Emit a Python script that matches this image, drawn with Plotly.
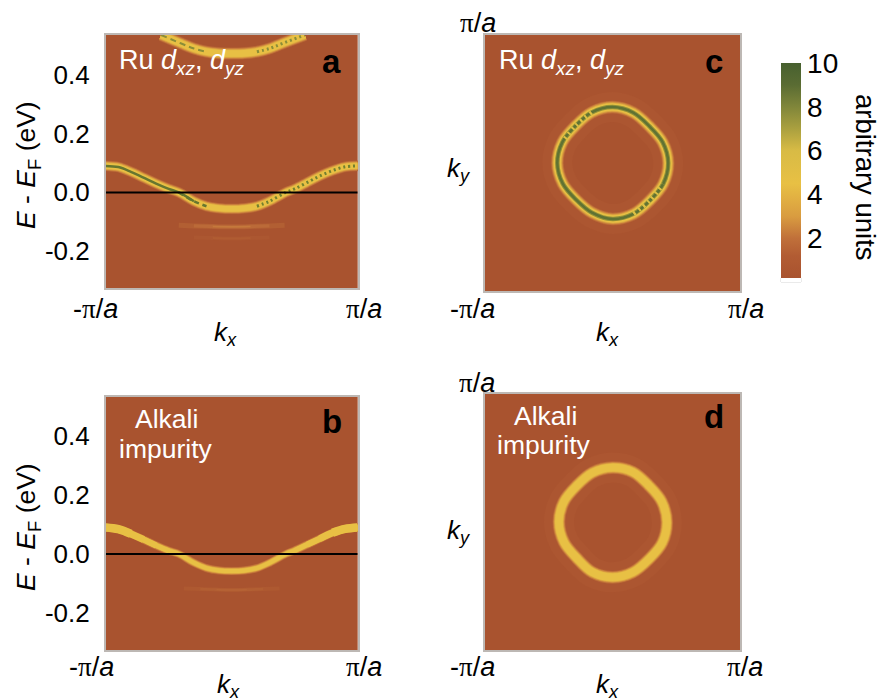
import plotly.graph_objects as go

W, H = 880, 699

# ---------- data (k in units of pi/a, E in eV) ----------
band_k = [-1.0, -0.9, -0.8, -0.7, -0.6, -0.5, -0.42, -0.3, -0.2, -0.1, 0.0,
          0.1, 0.2, 0.3, 0.43, 0.5, 0.6, 0.7, 0.8, 0.9, 1.0]
band_a_E = [0.090, 0.086, 0.070, 0.050, 0.030, 0.012, 0.0, -0.030, -0.047, -0.054, -0.056,
            -0.054, -0.047, -0.030, 0.0, 0.012, 0.034, 0.056, 0.074, 0.087, 0.090]
band_b_E = [0.090, 0.084, 0.068, 0.049, 0.029, 0.011, 0.0, -0.030, -0.048, -0.056, -0.058,
            -0.056, -0.048, -0.030, 0.0, 0.012, 0.032, 0.052, 0.072, 0.085, 0.090]
upper_k = [-0.56, -0.4, -0.3, -0.2, -0.1, 0.0, 0.1, 0.2, 0.3, 0.4, 0.58]
upper_E = [0.535, 0.506, 0.489, 0.478, 0.473, 0.472, 0.473, 0.478, 0.489, 0.506, 0.535]
faint1_k = [-0.42, -0.3, -0.15, 0.0, 0.15, 0.3, 0.42]
faint1_E = [-0.112, -0.114, -0.116, -0.117, -0.116, -0.114, -0.112]
faint2_k = [-0.3, -0.15, 0.0, 0.15, 0.3]
faint2_E = [-0.153, -0.155, -0.157, -0.155, -0.153]
faint_b_k = [-0.38, -0.25, -0.12, 0.0, 0.12, 0.25, 0.38]
faint_b_E = [-0.117, -0.119, -0.121, -0.122, -0.121, -0.119, -0.117]

ring_c_x = [0.437, 0.393, 0.288, 0.163, 0.0, -0.164, -0.29, -0.393, -0.433, -0.39, -0.286, -0.161,
            0.0, 0.165, 0.293, 0.397, 0.437]
ring_c_y = [0.0, 0.163, 0.288, 0.393, 0.437, 0.395, 0.29, 0.163, 0.0, -0.161, -0.286, -0.388,
            -0.437, -0.397, -0.293, -0.165, 0.0]
ring_d_x = [0.426, 0.386, 0.285, 0.16, 0.0, -0.158, -0.282, -0.382, -0.42, -0.38, -0.28, -0.158,
            0.0, 0.16, 0.288, 0.39, 0.426]
ring_d_y = [0.0, 0.16, 0.285, 0.39, 0.425, 0.385, 0.282, 0.158, 0.0, -0.158, -0.282, -0.392,
            -0.432, -0.392, -0.288, -0.162, 0.0]

cbar_ticks = [2, 4, 6, 8, 10]
y_ticks = [-0.2, 0.0, 0.2, 0.4]
y_tick_text = ["-0.2", "0.0", "0.2", "0.4"]

BG = "#a9532f"
FONT = "Liberation Sans"
colorscale = [[0, "#ffffff"], [0.018, "#ffffff"], [0.018, "#a9532f"], [0.12, "#b25c33"],
              [0.2, "#c0703a"], [0.3, "#d99c40"], [0.45, "#e8c044"], [0.6, "#d8bb45"],
              [0.7, "#aaa03f"], [0.8, "#80863a"], [0.9, "#5a6c33"], [1, "#47602f"]]
RAMP = ["#a9532f", "#c0703a", "#d99c40", "#e8c044"]


def hex_rgb(h):
    return [int(h[i:i + 2], 16) for i in (1, 3, 5)]


def ramp(t, top=1.0):
    t = t * top * (len(RAMP) - 1)
    i = min(int(t), len(RAMP) - 2)
    f = t - i
    a, b = hex_rgb(RAMP[i]), hex_rgb(RAMP[i + 1])
    return "rgb(%d,%d,%d)" % tuple(round(a[n] + (b[n] - a[n]) * f) for n in range(3))


def px_x(a, b):
    return [a / W, b / W]


def px_y(top, bottom):
    return [1 - bottom / H, 1 - top / H]


fig = go.Figure()
panels = {
    "": (105.7, 357.7, 35, 288, [-0.325, 0.535]),
    "2": (105.7, 357.7, 396.7, 650, [-0.326, 0.534]),
    "3": (485, 740, 35, 291, [-1, 1]),
    "4": (485, 740, 394, 650, [-1, 1]),
}
layout = {}
for s, (x0, x1, y0, y1, yr) in panels.items():
    energy = s in ("", "2")
    layout["xaxis" + s] = dict(domain=px_x(x0, x1), range=[-1, 1], anchor="y" + s, showgrid=False,
                               zeroline=False, showticklabels=False, ticks="", showline=True,
                               mirror=True, linecolor="#bdb8b4", linewidth=1.5)
    layout["yaxis" + s] = dict(domain=px_y(y0, y1), range=yr, anchor="x" + s, showgrid=False,
                               zeroline=False, showline=True, mirror=True,
                               linecolor="#bdb8b4", linewidth=1.5,
                               tickvals=y_ticks if energy else [],
                               ticktext=y_tick_text if energy else [],
                               ticks="outside" if energy else "", ticklen=9,
                               tickcolor="rgba(0,0,0,0)",
                               tickfont=dict(family=FONT, size=26, color="black"))


def line(x, y, s, width, color, dash="solid", shape="spline"):
    fig.add_trace(go.Scatter(x=x, y=y, xaxis="x" + s, yaxis="y" + s, mode="lines",
                             line=dict(width=width, color=color, dash=dash, shape=shape, smoothing=1),
                             showlegend=False, hoverinfo="skip"))


def soft(x, y, s, w_out, w_in, n=9, top=1.0):
    for i in range(n):
        t = (i + 1) / n
        line(x, y, s, w_out + (w_in - w_out) * t, ramp(t, top))


def streak(x, y, s, w, top, steps=3):
    # faint streak that narrows and brightens towards its middle
    for i in range(steps):
        line(x[i:len(x) - i], y[i:len(y) - i], s, w * (1 - i / steps), ramp((i + 1) / steps, top))


# Panel a
soft(band_k, band_a_E, "", 11.5, 5.5)
soft(upper_k, upper_E, "", 13, 6.5)
line(band_k[:8], band_a_E[:8], "", 2.5, "#66762f")
line(band_k[6:9], band_a_E[6:9], "", 2.5, "#66762f", dash="5px,4px")
line(band_k[12:], band_a_E[12:], "", 3, "#73802f", dash="2px,3px")
line(upper_k[:4], upper_E[:4], "", 2, "#8b8d38", dash="6px,4px")
line(upper_k[7:], upper_E[7:], "", 3, "#8b8d38", dash="2px,3px")
streak(faint1_k, faint1_E, "", 5, 0.4)
streak(faint2_k, faint2_E, "", 4, 0.1, steps=2)

# Panel b
soft(band_k, band_b_E, "2", 9, 4)
for n, w in ((6, 5), (5, 6), (4, 7), (3, 8.5)):
    line(band_k[:n], band_b_E[:n], "2", w, RAMP[3])
    line(band_k[-n:], band_b_E[-n:], "2", w, RAMP[3])
streak(faint_b_k, faint_b_E, "2", 4, 0.2)

# Panel c
line(ring_c_x, ring_c_y, "3", 30, "#ac5631")
soft(ring_c_x, ring_c_y, "3", 14, 7)
line(ring_c_x, ring_c_y, "3", 4.5, "#939238")
line(ring_c_x, ring_c_y, "3", 2.5, "#5f7233")
line(ring_c_x[5:8], ring_c_y[5:8], "3", 4.5, "#dcc045", dash="2px,4px")
line(ring_c_x[13:16], ring_c_y[13:16], "3", 4.5, "#dcc045", dash="2px,4px")

# Panel d
line(ring_d_x, ring_d_y, "4", 30, "#ac5631")
soft(ring_d_x, ring_d_y, "4", 14, 7.5)

# Zero-energy lines
for s in ("", "2"):
    line([band_k[0], band_k[-1]], [0, 0], s, 2, "black", shape="linear")

# Colour bar carrier
fig.add_trace(go.Scatter(x=[None], y=[None], mode="markers", showlegend=False, hoverinfo="skip",
                         marker=dict(color=[0], cmin=0, cmax=10, colorscale=colorscale, showscale=True,
                                     colorbar=dict(x=781 / W, xanchor="left", xpad=0, ypad=0,
                                                   y=1 - 282 / H, yanchor="bottom",
                                                   lenmode="pixels", len=219,
                                                   thicknessmode="pixels", thickness=20,
                                                   outlinewidth=0, tickvals=cbar_ticks, ticks="",
                                                   tickfont=dict(family=FONT, size=28, color="black")))))

PI = "<span style=\"font-family:'Liberation Serif'\">π</span>"
PI_A = PI + "/<i>a</i>"
NEG_PI_A = "-" + PI_A
EEF = "<i>E</i> - <i>E</i><sub>F</sub> (eV)"
RU = "Ru <i>d<sub>xz</sub></i>, <i>d<sub>yz</sub></i>"
KX = "<i>k<sub>x</sub></i>"
KY = "<i>k<sub>y</sub></i>"

texts = [
    (95, 309, NEG_PI_A, 27, "black", 0), (364, 309, PI_A, 27, "black", 0),
    (91, 667, NEG_PI_A, 27, "black", 0), (364, 667, PI_A, 27, "black", 0),
    (472, 309, NEG_PI_A, 27, "black", 0), (746, 309, PI_A, 27, "black", 0),
    (472, 667, NEG_PI_A, 27, "black", 0), (745, 667, PI_A, 27, "black", 0),
    (478, 23, PI_A, 27, "black", 0), (477, 383, PI_A, 27, "black", 0),
    (225, 333, KX, 26, "black", 0), (228, 685, KX, 26, "black", 0),
    (607, 333, KX, 26, "black", 0), (607, 685, KX, 26, "black", 0),
    (459, 169, KY, 26, "black", 0), (459, 531, KY, 26, "black", 0),
    (28, 165, EEF, 26.5, "black", -90), (28, 527, EEF, 26.5, "black", -90),
    (866, 177, "arbitrary units", 27.5, "black", 90),
    (181, 62, RU, 27, "white", 0), (561, 62, RU, 27, "white", 0),
    (166, 419, "Alkali", 26.5, "white", 0), (166, 449, "impurity", 26.5, "white", 0),
    (545, 416, "Alkali", 26.5, "white", 0), (544, 445, "impurity", 26.5, "white", 0),
    (331, 62, "<b>a</b>", 33, "black", 0), (332, 421, "<b>b</b>", 33, "black", 0),
    (714, 62, "<b>c</b>", 33, "black", 0), (714, 417, "<b>d</b>", 33, "black", 0),
]
annotations = [dict(x=x / W, y=1 - y / H, xref="paper", yref="paper", text=t, showarrow=False,
                    xanchor="center", yanchor="middle", textangle=a,
                    font=dict(family=FONT, size=sz, color=c))
               for x, y, t, sz, c, a in texts]

fig.update_layout(width=W, height=H, margin=dict(l=0, r=0, t=0, b=0), paper_bgcolor="white",
                  plot_bgcolor=BG, showlegend=False, annotations=annotations,
                  shapes=[dict(type="rect", xref="paper", yref="paper", x0=781 / W, x1=801 / W,
                               y0=1 - 282 / H, y1=1 - 278 / H, line=dict(color="#d5d5d5", width=1))],
                  **layout)
fig.write_html("out.html", config={"displayModeBar": False},
               post_script="document.body.style.margin='0';document.body.style.overflow='hidden';")
